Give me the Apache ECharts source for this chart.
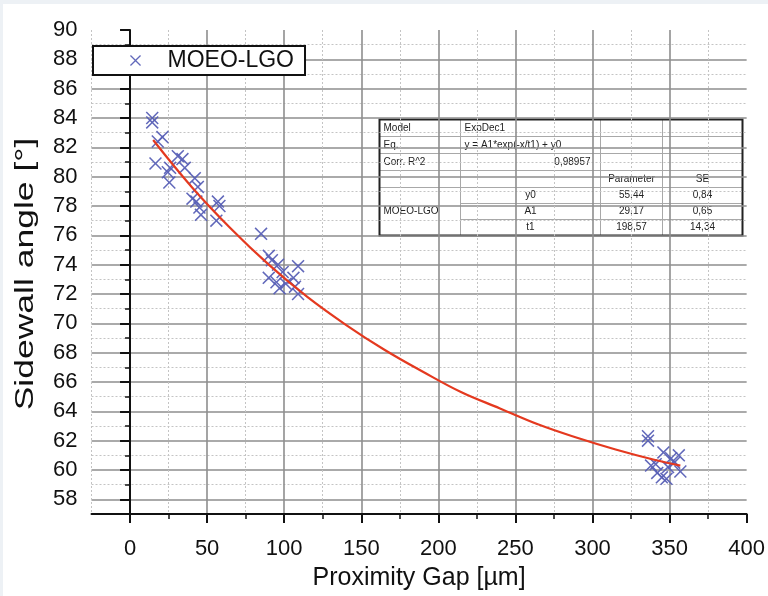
<!DOCTYPE html>
<html>
<head>
<meta charset="utf-8">
<script src="https://cdn.jsdelivr.net/npm/echarts@6/dist/echarts.min.js"></script>
<style>
  html, body { margin:0; padding:0; background:#edf1f5; }
  #chart { position:absolute; left:3px; top:4px; width:765px; height:592px; background:#fff; }
</style>
</head>
<body>
<div id="chart"></div>
<script>
// measured points (MOEO-LGO)
var gapX = [14.4, 14.4, 18, 21, 16.5, 31, 34, 26, 24.5, 35.5, 25.5, 42, 44, 40.5, 43, 45, 46, 57, 58, 56,
            85, 90, 92, 96, 99, 90, 95, 97, 101, 106, 109, 107, 109,
            336, 336, 338, 341, 342, 345, 348, 346, 349, 351, 356, 357, 353];
var angleY = [84.0, 83.7, 82.4, 82.7, 80.9, 81.4, 81.2, 80.6, 80.3, 80.6, 79.6, 79.9, 79.3, 78.5, 78.3, 77.9, 77.4, 78.3, 78.0, 77.0,
              76.1, 74.6, 74.3, 74.0, 73.5, 73.1, 72.8, 72.4, 72.7, 73.1, 73.9, 72.5, 72.0,
              62.3, 62.0, 60.3, 60.4, 59.8, 59.5, 59.4, 61.2, 60.2, 60.8, 61.0, 59.9, 60.5];
// ExpDec1 fit line
var fitX = [15, 40, 65, 90, 115, 140, 165, 190, 215, 240, 265, 290, 315, 340, 357];
var fitY = [82.5, 79.3, 76.5, 74.0, 71.8, 69.9, 68.2, 66.7, 65.3, 64.2, 63.1, 62.2, 61.4, 60.7, 60.3];

var xMajor = [0, 50, 100, 150, 200, 250, 300, 350, 400];
var xMinor = [25, 75, 125, 175, 225, 275, 325, 375];
var yMajor = [58, 60, 62, 64, 66, 68, 70, 72, 74, 76, 78, 80, 82, 84, 86, 88, 90];
var yMinor = [59, 61, 63, 65, 67, 69, 71, 73, 75, 77, 79, 81, 83, 85, 87, 89];

// fit table
var tblRows = [
  ['Model', 'ExpDec1', '', ''],
  ['Eq.', 'y = A1*exp(-x/t1) + y0', '', ''],
  ['Corr. R^2', '0,98957', '', ''],
  ['', '', 'Parameter', 'SE'],
  ['', 'y0', '55,44', '0,84'],
  ['', 'A1', '29,17', '0,65'],
  ['', 't1', '198,57', '14,34']
];

var FONT = 'Liberation Sans, Arial, sans-serif';
var cross = 'path://M0,1 L1,0 L6,5 L11,0 L12,1 L7,6 L12,11 L11,12 L6,7 L1,12 L0,11 L5,6 Z';
var gridCol = '#8e8e8e', dotCol = '#c4c4c4';

var pts = gapX.map(function (x, i) { return [x, angleY[i]]; });
var fit = fitX.map(function (x, i) { return [x, fitY[i]]; });

function ax(base, extra) {
  var o = {
    type: 'value', axisLine: { show: false }, axisTick: { show: false },
    axisLabel: { show: false }, splitLine: { show: false }
  };
  Object.assign(o, base);
  return Object.assign(o, extra);
}
var xb = { min: -25, max: 400, interval: 25, position: 'bottom' };
var yb = { min: 57, max: 90, interval: 1, position: 'left' };

// table graphic
var T = { left: 374, top: 113 };
var colX = [0, 81, 221, 283, 363];
var rowH = [17, 17, 17, 17, 16, 16, 16];
var rowY = [0];
rowH.forEach(function (h, i) { rowY.push(rowY[i] + h); });
var tbl = [];
tbl.push({ type: 'rect', shape: { x: 0, y: 0, width: 363, height: rowY[7] }, style: { fill: '#fff', stroke: null } });
for (var r = 1; r < 7; r++) {
  var x0 = (r >= 5) ? colX[1] : 0;
  tbl.push({ type: 'line', shape: { x1: x0, y1: rowY[r], x2: 363, y2: rowY[r] }, style: { stroke: '#a8a8a8', lineWidth: 1 } });
}
for (var c = 1; c < 4; c++) {
  tbl.push({ type: 'line', shape: { x1: colX[c], y1: 0, x2: colX[c], y2: rowY[7] }, style: { stroke: '#a8a8a8', lineWidth: 1 } });
}
tblRows.forEach(function (row, r) {
  row.forEach(function (t, c) {
    if (!t) return;
    var cy = rowY[r] + rowH[r] / 2;
    var align = 'left', tx = colX[c] + 4;
    if (r >= 3 && c >= 1) { align = 'center'; tx = (colX[c] + colX[c + 1]) / 2; }
    if (r === 2 && c === 1) { align = 'right'; tx = colX[2] - 10; }
    tbl.push({ type: 'text', x: tx, y: cy, style: { text: t, font: '10px ' + FONT, fill: '#222', align: align, verticalAlign: 'middle' } });
  });
});
tbl.push({ type: 'text', x: 4, y: (rowY[4] + rowY[7]) / 2, style: { text: 'MOEO-LGO', font: '10px ' + FONT, fill: '#222', align: 'left', verticalAlign: 'middle' } });
tbl.push({ type: 'rect', shape: { x: 0, y: 0, width: 363, height: rowY[7] }, style: { fill: null, stroke: '#222', lineWidth: 2 } });

var chart = echarts.init(document.getElementById('chart'));
chart.setOption({
  animation: false,
  backgroundColor: '#fff',
  textStyle: { fontFamily: FONT },
  grid: { left: 88.5, right: 16.5, top: 26, bottom: 81, containLabel: false },
  legend: {
    left: 90, top: 42,
    data: [{ name: 'MOEO-LGO', icon: cross }],
    itemWidth: 54, itemHeight: 11,
    padding: [3, 11, 3, 37],
    backgroundColor: '#fff', borderColor: '#111', borderWidth: 2, borderRadius: 0,
    textStyle: { fontSize: 23, color: '#111', fontFamily: FONT }
  },
  xAxis: [
    ax(xb, {
      axisLine: { show: true, lineStyle: { color: '#111', width: 2 } },
      axisLabel: { show: true, margin: 24, fontSize: 22, color: '#111',
        formatter: function (v) { return v % 50 === 0 ? String(v) : ''; } },
      splitLine: { show: true, showMaxLine: false, lineStyle: { color: ['transparent', gridCol], width: 1.6 } },
      name: 'Proximity Gap [µm]', nameLocation: 'middle', nameGap: 52,
      nameTextStyle: { fontSize: 25, color: '#111' }
    }),
    ax(xb, { splitLine: { show: true, showMaxLine: false, lineStyle: { color: [dotCol, 'transparent'], width: 1, type: [2, 2] } } }),
    ax(xb, { axisTick: { show: true, customValues: xMajor, length: 9, lineStyle: { color: '#111', width: 2 } } }),
    ax(xb, { axisTick: { show: true, customValues: xMinor, length: 5, lineStyle: { color: '#111', width: 1.5 } } })
  ],
  yAxis: [
    ax(yb, {
      axisLine: { show: true, lineStyle: { color: '#111', width: 2 } },
      axisLabel: { show: true, margin: 14, fontSize: 22, color: '#111',
        formatter: function (v) { return v % 2 === 0 ? String(v) : ''; } },
      splitLine: { show: true, showMaxLine: false, lineStyle: { color: ['transparent', gridCol], width: 1.6 } }
    }),
    ax(yb, { splitLine: { show: true, showMaxLine: false, lineStyle: { color: [dotCol, 'transparent'], width: 1, type: [2, 2] } } }),
    ax(yb, { axisTick: { show: true, customValues: yMajor, length: 10, lineStyle: { color: '#111', width: 2 } } }),
    ax(yb, { axisTick: { show: true, customValues: yMinor, length: 5, lineStyle: { color: '#111', width: 1.5 } } })
  ],
  series: [
    {
      name: 'MOEO-LGO', type: 'scatter', data: pts,
      symbol: cross, symbolSize: 13, symbolKeepAspect: true,
      itemStyle: { color: '#5860b6', opacity: 0.95 }, z: 3
    },
    {
      name: 'ExpDec1 fit', type: 'line', data: fit, smooth: 0.4, showSymbol: false,
      lineStyle: { color: '#e4391f', width: 2.2 }, z: 4
    }
  ],
  graphic: [
    { type: 'group', left: T.left, top: T.top, z: 100, children: tbl },
    // y axis title (stretched as in the original figure)
    { type: 'text', x: 23, y: 270, rotation: Math.PI / 2, scaleX: 1.42, z: 100,
      style: { text: 'Sidewall angle [°]', font: '25px ' + FONT, fill: '#111', align: 'center', verticalAlign: 'middle' } }
  ]
});
</script>
</body>
</html>
